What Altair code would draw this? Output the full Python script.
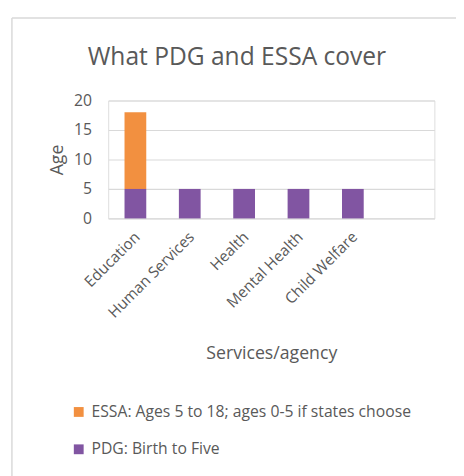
import altair as alt
import pandas as pd

categories = ["Education", "Human Services", "Health", "Mental Health", "Child Welfare", " "]
pdg_values = [5, 5, 5, 5, 5]
essa_values = [13, 0, 0, 0, 0]
series = ["ESSA: Ages 5 to 18; ages 0-5 if states choose", "PDG: Birth to Five"]
colors = ["#F29040", "#8155A2"]
chart_title = "What PDG and ESSA cover"

rows = []
for c, v in zip(categories[:5], essa_values):
    if v:
        rows.append({"cat": c, "series": series[0], "value": v, "order": 2})
for c, v in zip(categories[:5], pdg_values):
    rows.append({"cat": c, "series": series[1], "value": v, "order": 1})
df = pd.DataFrame(rows)

FONT = "Open Sans"
GRAY = "#595959"

bars = alt.Chart(df).mark_bar().encode(
    x=alt.X("cat:N", sort=categories,
            scale=alt.Scale(domain=categories, paddingInner=0.6, paddingOuter=0.3),
            axis=alt.Axis(title="Services/agency", labelAngle=-45, domain=False, ticks=False,
                          labelPadding=11, titlePadding=24, labelFontSize=15.5, titleFontSize=18,
                          labelColor=GRAY, titleColor=GRAY, labelFont=FONT, titleFont=FONT,
                          titleFontWeight="normal", grid=False, labelLimit=0, labelOffset=-3)),
    y=alt.Y("value:Q", stack="zero", scale=alt.Scale(domain=[0, 20]),
            axis=alt.Axis(title="Age", values=[0, 5, 10, 15, 20], domain=False, ticks=False,
                          labelPadding=17, titlePadding=7, labelFontSize=16, titleFontSize=18,
                          labelColor=GRAY, titleColor=GRAY, labelFont=FONT, titleFont=FONT,
                          titleFontWeight="normal", gridColor="#d9d9d9", gridWidth=1.2)),
    color=alt.Color("series:N", sort=series,
                    scale=alt.Scale(domain=series, range=colors),
                    legend=alt.Legend(title=None, orient="none", legendX=-38, legendY=309,
                                      symbolType="square", symbolSize=100, symbolStrokeWidth=0,
                                      labelFontSize=16, labelFont=FONT, labelColor=GRAY,
                                      rowPadding=22, labelOffset=5, labelLimit=0)),
    order=alt.Order("order:Q", sort="ascending"),
)

single = pd.DataFrame({"t": [chart_title]})
title_mark = alt.Chart(single).mark_text(
    font=FONT, fontSize=25, color=GRAY, align="center", baseline="alphabetic"
).encode(x=alt.value(131), y=alt.value(-36), text="t:N")

top_line = alt.Chart(single).mark_rule(color="#d9d9d9", strokeWidth=1.5).encode(
    x=alt.value(-98), x2=alt.value(400), y=alt.value(-84))
left_line = alt.Chart(single).mark_rule(color="#d9d9d9", strokeWidth=1.5).encode(
    x=alt.value(-98), y=alt.value(-84), y2=alt.value(420))

chart = alt.layer(bars, title_mark, top_line, left_line).properties(
    width=332, height=120,
    autosize="none",
    padding={"left": 102, "top": 90, "right": 22, "bottom": 258},
).configure_view(stroke=None).configure(background="white")

chart.save("out.html", embed_options={"renderer": "svg", "actions": False})
